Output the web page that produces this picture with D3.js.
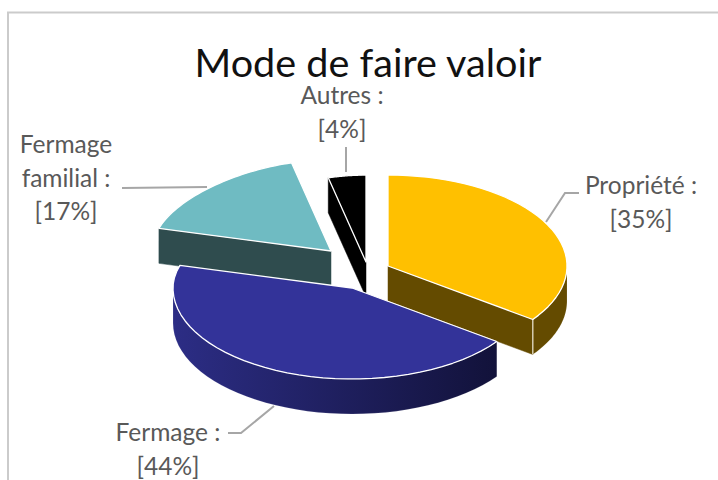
<!DOCTYPE html>
<html>
<head>
<meta charset="utf-8">
<script src="https://cdn.jsdelivr.net/npm/d3@7"></script>
<style>
  html, body { margin: 0; background: #fff; }
  text { font-family: Lato, "Open Sans", sans-serif; }
</style>
</head>
<body>
<div class="graph"></div>
<script>
const categories = ['Propriété', 'Fermage', 'Fermage familial', 'Autres'];
const shares = [35, 44, 17, 4];

const width = 718;
const height = 480;
const center = {x: 365, y: 273};
const rx = 179;
const ry = 91;
const depth = 35;

// pull-out and size of each slice, same order as categories
const explode = [[23, -7], [-13, 15], [-34, -22], [1, -11]];
const sliceScale = [1, 1, 1, 0.955];
const topColors = ['#FFC000', '#333399', '#6FBBC2', '#000000'];
const wallColors = ['#644B00', 'url(#wallBlue)', '#2F4C4E', '#000000'];

const svg = d3.select('.graph').append('svg')
  .attr('width', width)
  .attr('height', height)
  .style('display', 'block');

const grad = svg.append('defs').append('linearGradient')
  .attr('id', 'wallBlue');
grad.append('stop').attr('offset', '0%').attr('stop-color', '#2C2D85');
grad.append('stop').attr('offset', '100%').attr('stop-color', '#12123A');

// chart frame, cut by the right and bottom of the picture
svg.append('path')
  .attr('d', 'M8,480V12.5H718')
  .attr('fill', 'none')
  .attr('stroke', '#CBCBCB')
  .attr('stroke-width', 2);

svg.append('text')
  .attr('x', 368)
  .attr('y', 77)
  .attr('text-anchor', 'middle')
  .attr('font-size', 39.6)
  .attr('fill', '#111')
  .text('Mode de faire valoir');

const arcs = d3.pie().sort(null)(shares);

// point of the rim, the far left part is squeezed a little by the perspective
const rim = (a, ox, oy, k = 1, z = 0) => {
  const c = Math.cos(a);
  const s = Math.sin(a);
  const squeeze = s < 0 && c > 0 ? 1 - 0.12 * c * c : 1;
  return [ox + k * rx * s * squeeze, oy - k * ry * c + z];
};

const rimPath = (a0, a1, ox, oy, k, z) =>
  d3.range(0, 41).map(i => rim(a0 + (a1 - a0) * i / 40, ox, oy, k, z));

const line = d3.line();
const drawOrder = [3, 2, 0, 1];
const pie = svg.append('g');

drawOrder.forEach(i => {
  const d = arcs[i];
  const ox = center.x + explode[i][0];
  const oy = center.y + explode[i][1];
  const k = sliceScale[i];
  const g = pie.append('g').attr('class', 'slice');
  const a0 = d.startAngle;
  const a1 = d.endAngle;

  // cut faces turned to the viewer
  const wall = a => {
    const p = rim(a, ox, oy, k);
    g.append('path')
      .attr('d', line([[ox, oy], p, [p[0], p[1] + depth], [ox, oy + depth]]) + 'Z')
      .attr('fill', wallColors[i])
      .attr('stroke', wallColors[i])
      .attr('stroke-width', 0.5);
  };
  if (Math.sin(a0) < -1e-6) wall(a0);
  if (Math.sin(a1) > 1e-6) wall(a1);

  // outer wall, only the front half of the rim shows
  const f0 = Math.max(a0, Math.PI / 2);
  const f1 = Math.min(a1, Math.PI * 3 / 2);
  if (f1 > f0) {
    const pts = rimPath(f0, f1, ox, oy, k, 0).concat(rimPath(f1, f0, ox, oy, k, depth));
    g.append('path')
      .attr('d', line(pts) + 'Z')
      .attr('fill', wallColors[i])
      .attr('stroke', '#fff')
      .attr('stroke-opacity', 0.25)
      .attr('stroke-width', 0.5);
  }
  if (Math.sin(a1) > 1e-6) {
    const c = rim(a1, ox, oy, k);
    g.append('line')
      .attr('x1', c[0]).attr('y1', c[1])
      .attr('x2', c[0]).attr('y2', c[1] + depth)
      .attr('stroke', '#E8E2CF')
      .attr('stroke-width', 1.2);
  }

  // top face
  g.append('path')
    .attr('d', line([[ox, oy]].concat(rimPath(a0, a1, ox, oy, k, 0))) + 'Z')
    .attr('fill', topColors[i])
    .attr('stroke', '#fff')
    .attr('stroke-width', 1.3)
    .attr('stroke-linejoin', 'round');
});

// leader lines
const leaders = [
  [[546, 222], [565, 193], [579, 193]],
  [[274, 406], [241, 433], [228, 433]],
  [[122, 188], [207, 187]],
  [[346, 172], [346, 147]]
];
svg.append('g').selectAll('path')
  .data(leaders)
  .join('path')
  .attr('d', d => line(d))
  .attr('fill', 'none')
  .attr('stroke', '#A6A6A6')
  .attr('stroke-width', 2);

// labels
const labelLines = [
  ['Propriété :', '[35%]'],
  ['Fermage :', '[44%]'],
  ['Fermage', 'familial :', '[17%]'],
  ['Autres :', '[4%]']
];
const labelPos = [
  {x: 641, y: 194},
  {x: 168, y: 441},
  {x: 66, y: 153},
  {x: 342, y: 104}
];
labelLines.forEach((lines, i) => {
  svg.append('text')
    .attr('font-size', 24.5)
    .attr('fill', '#595959')
    .attr('text-anchor', 'middle')
    .selectAll('tspan')
    .data(lines)
    .join('tspan')
    .attr('x', labelPos[i].x)
    .attr('y', (d, j) => labelPos[i].y + j * 33.5)
    .text(d => d);
});
</script>
</body>
</html>
